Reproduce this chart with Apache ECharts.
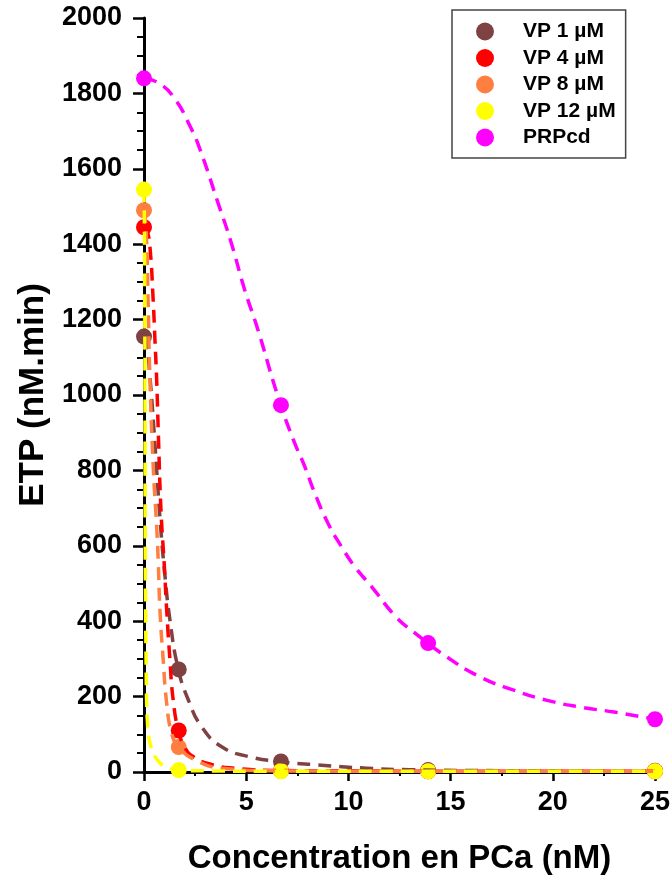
<!DOCTYPE html>
<html>
<head>
<meta charset="utf-8">
<script src="https://cdn.jsdelivr.net/npm/echarts@6/dist/echarts.min.js"></script>
<style>
html,body{margin:0;padding:0;background:#fff;}
#chart{width:672px;height:875px;}
</style>
</head>
<body>
<div id="chart"></div>
<script>
// Measured points
var xPts = [0, 1.7, 6.7, 13.9, 25];
var vp1 = [1155, 272, 28, 5, 3];
var vp4 = [1445, 110, 3, 2, 2];
var vp8 = [1490, 66, 3, 2, 2];
var vp12 = [1545, 5, 2, 2, 2];
var prpX = [0, 6.7, 13.9, 25];
var prp = [1840, 973, 342, 140];

// Fitted curves
var vp1FitX = [0, 0.15, 0.29, 0.5, 0.62, 0.8, 1.0, 1.27, 1.68, 2.17, 2.82, 3.8, 5.1, 6.74, 8.45, 10.9, 13, 16, 20, 25];
var vp1FitY = [1155, 1125, 1049, 898, 800, 660, 535, 403, 272, 191, 120, 67, 41, 27, 19, 10, 6, 4, 3, 2];
var vp4FitX = [0, 0.15, 0.29, 0.45, 0.54, 0.62, 0.7, 0.83, 0.99, 1.11, 1.27, 1.43, 1.68, 2.0, 2.4, 3.3, 4.45, 6.7, 10, 15, 20, 25];
var vp4FitY = [1445, 1435, 1393, 1250, 1140, 1040, 900, 695, 550, 430, 297, 190, 111, 65, 41, 20, 10, 4, 3, 2, 2, 2];
var vp8FitX = [0, 0.1, 0.2, 0.29, 0.46, 0.62, 0.7, 0.78, 0.94, 1.11, 1.35, 1.68, 2.5, 3.8, 6.7, 13.9, 25];
var vp8FitY = [1490, 1440, 1250, 1040, 801, 650, 554, 430, 297, 182, 103, 67, 32, 10, 3, 2, 2];
var vp12FitX = [0, 0.02, 0.04, 0.05, 0.06, 0.08, 0.1, 0.13, 0.17, 0.21, 0.3, 0.46, 0.6, 0.78, 1.0, 1.2, 1.7, 3, 6.7, 13.9, 25];
var vp12FitY = [1545, 1450, 1200, 900, 600, 420, 300, 180, 130, 103, 75, 50, 36, 24, 15, 10, 5, 3, 2, 2, 2];
var prpFitX = [0, 0.7, 1.45, 2.28, 2.77, 3.6, 4.26, 4.92, 5.58, 6.57, 7.33, 7.83, 8.33, 8.99, 9.66, 10.32, 11.16, 12.3, 13.18, 14.82, 16.45, 18.09, 19.73, 21.36, 23.0, 25];
var prpFitY = [1840, 1828, 1790, 1710, 1647, 1513, 1405, 1280, 1172, 993, 878, 815, 743, 661, 598, 544, 490, 413, 372, 305, 252, 217, 190, 172, 159, 140];

var names = ['VP 1 µM', 'VP 4 µM', 'VP 8 µM', 'VP 12 µM', 'PRPcd'];
var colors = ['#7E4242', '#FF0000', '#FF7F40', '#FFFF00', '#FF00FF'];

function zip(xs, ys) { return xs.map(function (x, i) { return [x, ys[i]]; }); }

var groups = [
  {pts: zip(xPts, vp1), fit: zip(vp1FitX, vp1FitY)},
  {pts: zip(xPts, vp4), fit: zip(vp4FitX, vp4FitY)},
  {pts: zip(xPts, vp8), fit: zip(vp8FitX, vp8FitY)},
  {pts: zip(xPts, vp12), fit: zip(vp12FitX, vp12FitY)},
  {pts: zip(prpX, prp), fit: zip(prpFitX, prpFitY)}
];

var series = [];
groups.forEach(function (g, i) {
  series.push({
    type: 'line', name: names[i] + ' fit', data: g.fit, showSymbol: false, symbol: 'none',
    smooth: 0.5, clip: false, silent: true,
    lineStyle: {color: colors[i], width: 3.5, type: [13, 8]}
  });
  series.push({
    type: 'scatter', name: names[i], data: g.pts, symbol: 'circle', symbolSize: 16, clip: false,
    itemStyle: {color: colors[i], opacity: 1}
  });
});

var font = "'Liberation Sans', Arial, sans-serif";
var chart = echarts.init(document.getElementById('chart'), null, {renderer: 'canvas'});
chart.setOption({
  animation: false,
  backgroundColor: '#fff',
  color: colors,
  grid: {left: 144, right: 17, top: 18, bottom: 103, containLabel: false, outerBoundsMode: 'none'},
  legend: {
    data: names.map(function (n) { return {name: n, icon: 'circle'}; }),
    orient: 'vertical', left: 452, top: 10,
    itemWidth: 18, itemHeight: 18, itemGap: 5.5,
    padding: [11, 10, 10, 24],
    borderColor: '#444', borderWidth: 1.5,
    textStyle: {fontFamily: font, fontWeight: 'bold', fontSize: 21, color: '#000', lineHeight: 18, padding: [0, 0, 0, 24]},
    selectedMode: false
  },
  xAxis: {
    type: 'value', min: 0, max: 25, interval: 5,
    name: 'Concentration en PCa (nM)', nameLocation: 'middle', nameGap: 70,
    nameTextStyle: {fontFamily: font, fontWeight: 'bold', fontSize: 33, color: '#000'},
    axisLine: {show: true, onZero: false, lineStyle: {color: '#000', width: 3}},
    axisTick: {show: true, length: 9, lineStyle: {color: '#000', width: 2.5}},
    minorTick: {show: true, splitNumber: 2, length: 4, lineStyle: {color: '#000', width: 2}},
    splitLine: {show: false},
    axisLabel: {fontFamily: font, fontWeight: 'bold', fontSize: 27, color: '#000', margin: 17}
  },
  yAxis: {
    type: 'value', min: 0, max: 2000, interval: 200,
    name: 'ETP (nM.min)', nameLocation: 'middle', nameGap: 78,
    nameTextStyle: {fontFamily: font, fontWeight: 'bold', fontSize: 35, color: '#000'},
    axisLine: {show: true, onZero: false, lineStyle: {color: '#000', width: 3}},
    axisTick: {show: true, length: 11, lineStyle: {color: '#000', width: 2.5}},
    minorTick: {show: true, splitNumber: 4, length: 7, lineStyle: {color: '#000', width: 2}},
    splitLine: {show: false},
    axisLabel: {fontFamily: font, fontWeight: 'bold', fontSize: 27, color: '#000', margin: 22,
      formatter: function (v) { return String(v); }}
  },
  series: series
});
</script>
</body>
</html>
